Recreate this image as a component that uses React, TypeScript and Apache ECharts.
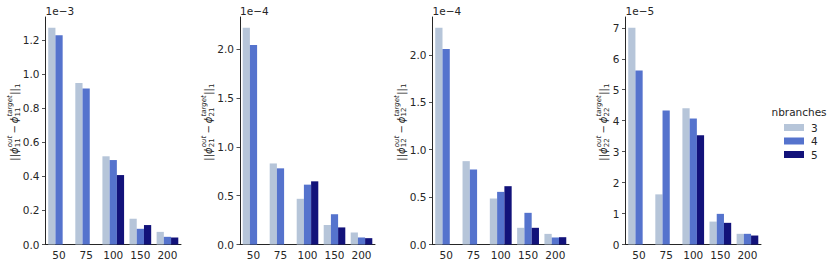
import React, { useEffect, useRef } from "react";
import * as echarts from "echarts";

// ---- data (values are in units of the panel's exponent) ----
const categories = ["50", "75", "100", "150", "200"];
const seriesNames = ["3", "4", "5"];

// panel 1: phi_11, x 1e-3
const p11_n3 = [1.27, 0.946, 0.517, 0.151, 0.074];
const p11_n4 = [1.227, 0.914, 0.495, 0.092, 0.045];
const p11_n5 = [null, null, 0.407, 0.114, 0.041];
// panel 2: phi_21, x 1e-4
const p21_n3 = [2.219, 0.83, 0.468, 0.2, 0.123];
const p21_n4 = [2.044, 0.78, 0.613, 0.31, 0.072];
const p21_n5 = [null, null, 0.647, 0.175, 0.065];
// panel 3: phi_12, x 1e-4
const p12_n3 = [2.285, 0.879, 0.485, 0.176, 0.112];
const p12_n4 = [2.063, 0.791, 0.555, 0.334, 0.074];
const p12_n5 = [null, null, 0.615, 0.176, 0.077];
// panel 4: phi_22, x 1e-5
const p22_n3 = [7.0, 1.62, 4.4, 0.74, 0.345];
const p22_n4 = [5.62, 4.33, 4.07, 0.99, 0.345];
const p22_n5 = [null, null, 3.53, 0.7, 0.29];

const yTicksA = [0, 0.2, 0.4, 0.6, 0.8, 1.0, 1.2];
const yTicksB = [0, 0.5, 1.0, 1.5, 2.0];
const yTicksC = [0, 1, 2, 3, 4, 5, 6, 7];
const exponentLabels = ["1e\u22123", "1e\u22124", "1e\u22124", "1e\u22125"];
const subscripts = ["11", "21", "12", "22"];

// ---- styles / layout ----
const colors = ["#b6c5d9", "#5573cd", "#12127a"];
const TXT = "#262626";
const FONT = "DejaVu Sans";
const gridBoxes = [
  { left: 45.5, width: 135.5, labelX: 14.5 },
  { left: 240, width: 135, labelX: 208.5 },
  { left: 432.5, width: 136.5, labelX: 401 },
  { left: 625.5, width: 135.5, labelX: 603.5 },
];
const GRID_TOP = 17;
const GRID_BOTTOM = 244.5;

let measureCtx: CanvasRenderingContext2D | null = null;
function measure(t: string, size: number, italic: boolean) {
  if (!measureCtx) measureCtx = document.createElement("canvas").getContext("2d");
  if (!measureCtx) return t.length * size * 0.6;
  measureCtx.font = `${italic ? "italic " : ""}${size}px "${FONT}"`;
  return measureCtx.measureText(t).width;
}

function yLabel(sub: string, cx: number, cy: number) {
  const S = 10;
  const s = 7;
  const children: any[] = [];
  let x = 0;
  const txt = (t: string, size: number, italic: boolean, dy: number, at: number) => {
    children.push({
      type: "text",
      x: at,
      y: dy,
      style: {
        text: t,
        fontSize: size,
        fontFamily: FONT,
        fontStyle: italic ? "italic" : "normal",
        fill: TXT,
        align: "left",
        verticalAlign: "middle",
      },
    });
  };
  const main = (t: string, italic: boolean) => {
    txt(t, S, italic, 0, x);
    x += measure(t, S, italic);
  };
  const supsub = (sup: string | null, sb: string | null) => {
    let w = 0;
    if (sup) {
      txt(sup, s, true, -0.45 * S, x);
      w = Math.max(w, measure(sup, s, true));
    }
    if (sb) {
      txt(sb, s, false, 0.33 * S, x);
      w = Math.max(w, measure(sb, s, false));
    }
    x += w + 0.3;
  };
  main("||", false);
  main("\u03d5", true);
  supsub("out", sub);
  main("\u2009\u2212\u2009", false);
  main("\u03d5", true);
  supsub("target", sub);
  main("||", false);
  supsub(null, "1");
  const W = x;
  children.forEach((c) => (c.x -= W / 2));
  return { type: "group", x: cx, y: cy, rotation: Math.PI / 2, children };
}

export default function App() {
  const ref = useRef<HTMLDivElement>(null);
  useEffect(() => {
    if (!ref.current) return;
    const chart = echarts.init(ref.current, null, { renderer: "svg" });
    const panels = [
      { data: [p11_n3, p11_n4, p11_n5], ticks: yTicksA, dec: 1 },
      { data: [p21_n3, p21_n4, p21_n5], ticks: yTicksB, dec: 1 },
      { data: [p12_n3, p12_n4, p12_n5], ticks: yTicksB, dec: 1 },
      { data: [p22_n3, p22_n4, p22_n5], ticks: yTicksC, dec: 0 },
    ];
    const grid: any[] = [];
    const xAxis: any[] = [];
    const yAxis: any[] = [];
    const series: any[] = [];
    const graphic: any[] = [];
    panels.forEach((p, i) => {
      const g = gridBoxes[i];
      grid.push({ left: g.left, width: g.width, top: GRID_TOP, height: GRID_BOTTOM - GRID_TOP, containLabel: false });
      xAxis.push({
        type: "category",
        gridIndex: i,
        data: categories,
        boundaryGap: true,
        axisLine: { lineStyle: { color: TXT, width: 1 } },
        axisTick: { alignWithLabel: true, length: 3.5, lineStyle: { color: TXT, width: 0.8 } },
        axisLabel: { color: TXT, fontSize: 10.5, fontFamily: FONT, margin: 5 },
        splitLine: { show: false },
      });
      let maxV = 0;
      p.data.forEach((arr) => arr.forEach((v) => { if (v != null && v > maxV) maxV = v; }));
      yAxis.push({
        type: "value",
        gridIndex: i,
        min: 0,
        max: maxV * 1.05,
        axisLine: { show: true, lineStyle: { color: TXT, width: 1 } },
        axisTick: { show: true, length: 3.5, customValues: p.ticks, lineStyle: { color: TXT, width: 0.8 } },
        axisLabel: {
          color: TXT,
          fontSize: 10.5,
          fontFamily: FONT,
          margin: 6,
          customValues: p.ticks,
          formatter: (v: number) => v.toFixed(p.dec),
        },
        splitLine: { show: false },
      });
      p.data.forEach((arr, k) => {
        series.push({
          type: "bar",
          name: seriesNames[k],
          xAxisIndex: i,
          yAxisIndex: i,
          data: arr,
          barGap: "0%",
          barCategoryGap: "20%",
          itemStyle: { color: colors[k] },
        });
      });
      graphic.push({
        type: "text",
        x: g.left,
        y: 11,
        style: {
          text: exponentLabels[i],
          fontSize: 10.5,
          fontFamily: FONT,
          fill: TXT,
          align: "left",
          verticalAlign: "middle",
        },
      });
      graphic.push(yLabel(subscripts[i], g.labelX, 122));
    });
    graphic.push({
      type: "text",
      x: 771.5,
      y: 112,
      style: {
        text: "nbranches",
        fontSize: 10.5,
        fontFamily: FONT,
        fill: TXT,
        align: "left",
        verticalAlign: "middle",
      },
    });
    chart.setOption({
      animation: false,
      grid,
      xAxis,
      yAxis,
      series,
      graphic,
      legend: {
        data: seriesNames,
        orient: "vertical",
        left: 779,
        top: 117,
        icon: "rect",
        itemWidth: 20,
        itemHeight: 7,
        itemGap: 2.5,
        textStyle: { color: TXT, fontSize: 10.5, fontFamily: FONT, padding: [0, 0, 0, 2] },
      },
    });
    return () => chart.dispose();
  }, []);
  return (
    <div
      ref={ref}
      style={{ position: "fixed", left: 0, top: 0, width: 830, height: 268, background: "#fff" }}
    />
  );
}
